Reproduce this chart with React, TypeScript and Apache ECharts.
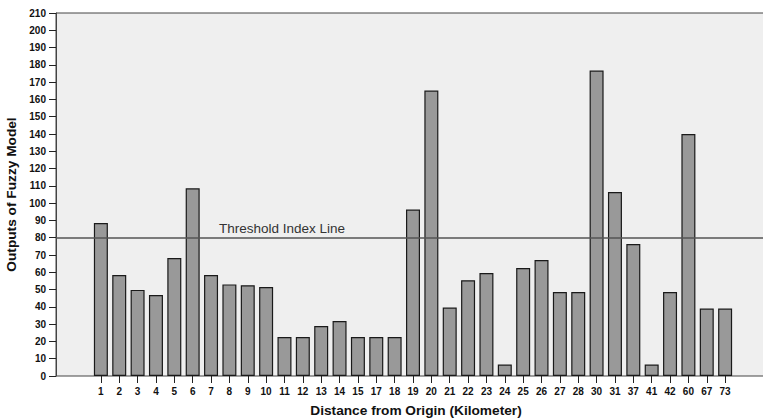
import React, { useEffect, useRef } from "react";
import * as echarts from "echarts";

const categories = [
  "1", "2", "3", "4", "5", "6", "7", "8", "9", "10", "11", "12", "13", "14", "15",
  "17", "18", "19", "20", "21", "22", "23", "24", "25", "26", "27", "28",
  "30", "31", "37", "41", "42", "60", "67", "73",
];
const values = [
  88.5, 58.4, 49.8, 46.9, 68.3, 108.6, 58.4, 53, 52.5, 51.5, 22.6, 22.6, 28.9, 31.8, 22.6,
  22.6, 22.6, 96.3, 165.1, 39.6, 55.4, 59.6, 6.6, 62.5, 67.1, 48.6, 48.6,
  176.7, 106.4, 76.4, 6.6, 48.6, 140, 39, 39,
];
const threshold = 80;
const thresholdLabel = "Threshold Index Line";
const xTitle = "Distance from Origin (Kilometer)";
const yTitle = "Outputs of Fuzzy Model";

const FONT = "'Liberation Sans', Arial, sans-serif";

export default function App() {
  const ref = useRef<HTMLDivElement>(null);
  useEffect(() => {
    if (!ref.current) return;
    const chart = echarts.init(ref.current, null, { renderer: "svg" });
    chart.setOption({
      animation: false,
      backgroundColor: "#ffffff",
      textStyle: { fontFamily: FONT },
      grid: [
        {
          left: 56, top: 13, width: 714, height: 363,
          outerBoundsMode: "none", containLabel: false,
          show: true, backgroundColor: "#efefef", borderColor: "#444", borderWidth: 1,
        },
        {
          left: 91.7, top: 13, width: 642.6, height: 363,
          outerBoundsMode: "none", containLabel: false,
        },
      ],
      xAxis: [
        {
          gridIndex: 0, type: "value", min: 0, max: 1,
          axisLine: { show: false }, axisTick: { show: false }, axisLabel: { show: false },
          splitLine: { show: false },
        },
        {
          gridIndex: 1, type: "category", data: categories,
          axisLine: { show: false },
          axisTick: { show: true, alignWithLabel: true, length: 7, lineStyle: { color: "#222" } },
          axisLabel: { margin: 10, fontSize: 10, fontWeight: "bold", color: "#111", fontFamily: FONT, interval: 0 },
          name: xTitle, nameLocation: "middle", nameGap: 27,
          nameTextStyle: { fontSize: 13.7, fontWeight: "bold", color: "#111", fontFamily: FONT, padding: [0, 0, 0, 6] },
        },
      ],
      yAxis: [
        {
          gridIndex: 0, type: "value", min: 0, max: 210, interval: 10,
          axisLine: { show: true, lineStyle: { color: "#444" } },
          axisTick: { show: true, length: 7, lineStyle: { color: "#222" } },
          axisLabel: { margin: 10, fontSize: 10, fontWeight: "bold", color: "#111", fontFamily: FONT },
          splitLine: { show: false },
          name: yTitle, nameLocation: "middle", nameRotate: 90, nameGap: 31,
          nameTextStyle: { fontSize: 13.7, fontWeight: "bold", color: "#111", fontFamily: FONT },
        },
        {
          gridIndex: 1, type: "value", min: 0, max: 210, interval: 10, show: false,
          splitLine: { show: false },
        },
      ],
      series: [
        {
          type: "bar", xAxisIndex: 1, yAxisIndex: 1, data: values, barWidth: 14,
          itemStyle: { color: "#999999", borderColor: "#1a1a1a", borderWidth: 1.2 },
          z: 2,
        },
        {
          type: "line", xAxisIndex: 0, yAxisIndex: 0, data: [], z: 5,
          markLine: {
            silent: true, symbol: "none", z: 10,
            label: { show: false },
            lineStyle: { color: "#555", width: 1.6, type: "solid" },
            data: [{ yAxis: threshold }],
          },
        },
      ],
      graphic: [
        {
          type: "text", left: 219, top: 221, z: 20,
          style: { text: thresholdLabel, fontSize: 13.5, fill: "#333", fontFamily: FONT },
        },
      ],
    });
    return () => chart.dispose();
  }, []);
  return (
    <div
      ref={ref}
      style={{ position: "absolute", left: 0, top: 0, width: 763, height: 419 }}
    />
  );
}
